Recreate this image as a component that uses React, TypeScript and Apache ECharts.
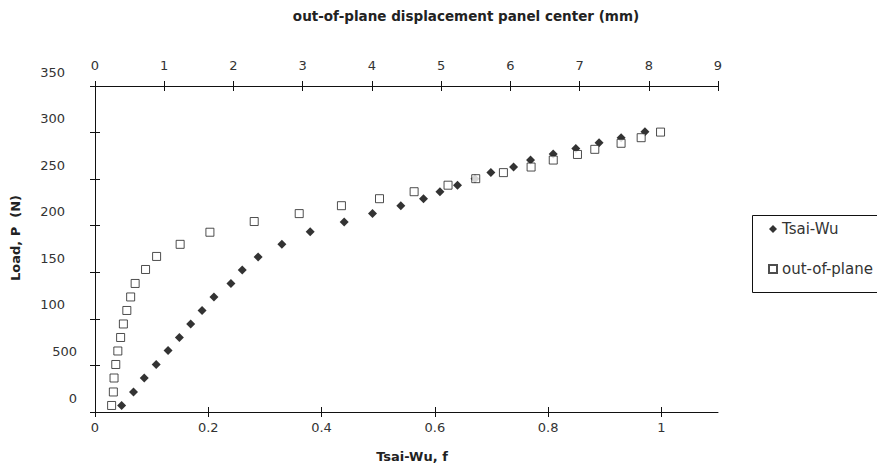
import React, { useEffect, useRef } from "react";
import * as echarts from "echarts";

// Tsai-Wu failure index (bottom axis) vs load
const tsaiWuF = [0.047, 0.068, 0.087, 0.108, 0.129, 0.149, 0.169, 0.189, 0.21, 0.24, 0.26, 0.288, 0.33, 0.38, 0.44, 0.49, 0.54, 0.58, 0.609, 0.64, 0.671, 0.699, 0.739, 0.769, 0.809, 0.849, 0.89, 0.929, 0.971];
const tsaiWuLoad = [7, 21.5, 36.5, 51, 66, 80, 94.5, 109, 123.5, 138, 152.5, 166.5, 180, 193.5, 204, 213, 221.5, 229, 236.5, 243.5, 250.5, 257, 263, 270.5, 277, 283, 289, 294.5, 301];

// out-of-plane displacement (top axis, mm) vs load
const dispMm = [0.24, 0.265, 0.275, 0.3, 0.33, 0.37, 0.41, 0.46, 0.515, 0.58, 0.73, 0.89, 1.23, 1.66, 2.3, 2.95, 3.56, 4.11, 4.61, 5.1, 5.5, 5.9, 6.3, 6.62, 6.97, 7.22, 7.6, 7.89, 8.17];
const dispLoad = [7, 21.5, 36.5, 51, 65.5, 80, 94.5, 109, 123.5, 138, 153, 167, 180, 193, 204.5, 213, 221.5, 229, 236.5, 243.5, 250.5, 257, 263, 270.5, 276.5, 282, 288.5, 294.5, 300.5];

const seriesNames = ["Tsai-Wu", "out-of-plane"];
const bottomTicks = [0, 0.2, 0.4, 0.6, 0.8, 1];
const yTickValues = [0, 50, 100, 150, 200, 250, 300, 350];
const yTickLabels = ["0", "500", "100", "150", "200", "250", "300", "350"];

const topTitle = "out-of-plane displacement panel center (mm)";
const bottomTitle = "Tsai-Wu, f";
const leftTitle = "Load, P  (N)";

export default function App() {
  const ref = useRef<HTMLDivElement>(null);
  useEffect(() => {
    if (!ref.current) return;
    const chart = echarts.init(ref.current, undefined, { renderer: "svg" });
    const font = "DejaVu Sans";
    const lineStyle = { color: "#111", width: 1 };
    const labelStyle = { color: "#333", fontFamily: font, fontSize: 13 };
    const grid = { left: 95, right: 159, top: 86, bottom: 54 };
    const bottomAxis = (gridIndex: number, inside: boolean) => ({
      type: "value",
      gridIndex,
      position: "bottom",
      min: 0,
      max: 1.1,
      interval: 0.2,
      axisLine: { show: !inside, lineStyle },
      axisTick: { show: true, inside, length: 5, lineStyle, customValues: bottomTicks },
      axisLabel: { show: !inside, ...labelStyle, margin: 9, customValues: bottomTicks },
      splitLine: { show: false },
    });
    const topAxis = (gridIndex: number, inside: boolean) => ({
      type: "value",
      gridIndex,
      position: "top",
      min: 0,
      max: 9,
      interval: 1,
      axisLine: { show: !inside, lineStyle },
      axisTick: { show: true, inside, length: 5, lineStyle },
      axisLabel: { show: !inside, ...labelStyle, margin: 14 },
      splitLine: { show: false },
    });
    const leftAxis = (gridIndex: number, inside: boolean) => ({
      type: "value",
      gridIndex,
      position: "left",
      min: 0,
      max: 350,
      interval: 50,
      axisLine: { show: !inside, lineStyle },
      axisTick: { show: true, inside, length: 5, lineStyle },
      axisLabel: {
        show: !inside,
        ...labelStyle,
        margin: 18,
        padding: [0, 0, 28, 0],
        formatter: (v: number) => {
          const i = yTickValues.indexOf(v);
          const t = i >= 0 ? yTickLabels[i] : "";
          return v === 0 || v === 50 ? `{b|${t}}` : `{a|${t}}`;
        },
        rich: {
          a: { ...labelStyle, padding: [0, 12, 0, 0] },
          b: { ...labelStyle },
        },
      },
      splitLine: { show: false },
    });

    chart.setOption({
      animation: false,
      backgroundColor: "#fff",
      grid: [grid, grid],
      xAxis: [bottomAxis(0, false), topAxis(0, false), bottomAxis(1, true), topAxis(1, true)],
      yAxis: [leftAxis(0, false), leftAxis(1, true)],
      legend: {
        orient: "vertical",
        left: 768,
        top: 221,
        padding: 0,
        itemWidth: 8,
        itemHeight: 8,
        itemGap: 24,
        selectedMode: false,
        data: seriesNames,
        textStyle: { color: "#333", fontFamily: font, fontSize: 15, lineHeight: 16 },
      },
      graphic: [
        {
          type: "rect",
          shape: { x: 752.5, y: 215.5, width: 200, height: 77 },
          style: { fill: "none", stroke: "#111", lineWidth: 1 },
          silent: true,
        },
        {
          type: "text",
          x: 466,
          y: 16,
          style: { text: topTitle, fill: "#222", font: `bold 13.5px '${font}'`, textAlign: "center", textVerticalAlign: "middle" },
        },
        {
          type: "text",
          x: 412,
          y: 456,
          style: { text: bottomTitle, fill: "#222", font: `bold 13px '${font}'`, textAlign: "center", textVerticalAlign: "middle" },
        },
        {
          type: "text",
          x: 15,
          y: 238,
          rotation: Math.PI / 2,
          style: { text: leftTitle, fill: "#222", font: `bold 13px '${font}'`, textAlign: "center", textVerticalAlign: "middle" },
        },
      ],
      series: [
        {
          name: seriesNames[0],
          type: "scatter",
          xAxisIndex: 0,
          yAxisIndex: 0,
          symbol: "diamond",
          symbolSize: 9,
          itemStyle: { color: "#000" },
          data: tsaiWuF.map((f, i) => [f, tsaiWuLoad[i]]),
        },
        {
          name: seriesNames[1],
          type: "scatter",
          xAxisIndex: 1,
          yAxisIndex: 0,
          symbol: "rect",
          symbolSize: 8,
          itemStyle: { color: "#fff", borderColor: "#222", borderWidth: 1 },
          data: dispMm.map((d, i) => [d, dispLoad[i]]),
        },
      ],
    });
    return () => chart.dispose();
  }, []);
  return <div ref={ref} style={{ position: "fixed", left: 0, top: 0, width: 877, height: 466 }} />;
}
